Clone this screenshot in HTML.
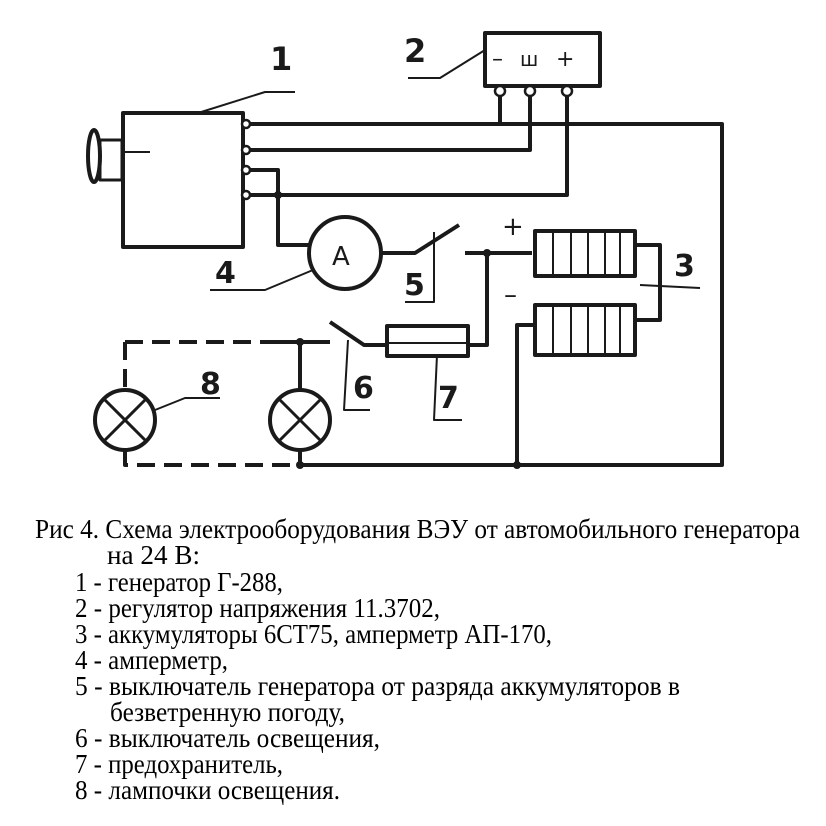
<!DOCTYPE html>
<html><head><meta charset="utf-8"><style>
html,body{margin:0;padding:0;background:#fff;width:826px;height:826px;overflow:hidden}
svg{display:block}
</style></head><body>
<svg width="826" height="826" viewBox="0 0 826 826" xmlns="http://www.w3.org/2000/svg">
<g fill="none" stroke="#1a1a1a" stroke-width="4" stroke-linejoin="round">
<rect x="123" y="113" width="120" height="134"/>
<rect x="100" y="140" width="22" height="40" stroke-width="3"/>
<ellipse cx="94" cy="156" rx="6" ry="26" stroke-width="4"/>
<line x1="122" y1="152" x2="150" y2="152" stroke-width="2"/>
<rect x="485" y="33" width="115" height="53"/>
<path d="M198 113 L265 92 L295 92" stroke-width="2"/>
<path d="M485 50 L440 78 L408 78" stroke-width="2"/>
<path d="M313 270 L265 290 L210 290" stroke-width="2"/>
<path d="M434 232 L434 302 L405 302" stroke-width="2"/>
<path d="M348 340 L344 410 L370 410" stroke-width="2"/>
<path d="M437 355 L434 420 L462 420" stroke-width="2"/>
<path d="M155 410 L185 398 L220 398" stroke-width="2"/>
<path d="M640 285 L700 288" stroke-width="2"/>
<path d="M243 124 L722 124 L722 465 L300 465"/>
<path d="M500 95 L500 124"/>
<path d="M243 150 L530 150 L530 95"/>
<path d="M243 195 L567 195 L567 95"/>
<path d="M243 170 L278 170 L278 245 L310 245"/>
<path d="M381 253 L415 253 L459 225"/>
<path d="M465 253 L532 253"/>
<path d="M487 253 L487 345 L468 345"/>
<path d="M635 245 L660 245 L660 320 L635 320"/>
<path d="M535 325 L517 325 L517 465"/>
<path d="M330 322 L364 345 L387 345"/>
<path d="M270 342 L330 342"/>
<path d="M300 342 L300 390 M300 450 L300 465"/>
<path d="M125 342 L300 342 M125 342 L125 390 M125 450 L125 465 L300 465" stroke-dasharray="18 9"/>
<circle cx="345" cy="253" r="36"/>
<circle cx="125" cy="420" r="30"/>
<path d="M104 399 L146 441 M146 399 L104 441" stroke-width="3"/>
<circle cx="300" cy="420" r="30"/>
<path d="M279 399 L321 441 M321 399 L279 441" stroke-width="3"/>
<rect x="387" y="326" width="81" height="30"/>
<line x1="387" y1="343" x2="468" y2="343" stroke-width="2"/>
<rect x="535" y="231" width="100" height="45"/>
<rect x="535" y="305" width="100" height="50"/>
<path d="M553 231 V276 M571 231 V276 M588 231 V276 M605 231 V276 M620 231 V276" stroke-width="2"/>
<path d="M553 305 V355 M571 305 V355 M588 305 V355 M605 305 V355 M620 305 V355" stroke-width="2"/>
</g>
<g fill="#fff" stroke="#1a1a1a" stroke-width="2.5">
<circle cx="500" cy="91" r="5"/><circle cx="530" cy="91" r="5"/><circle cx="567" cy="91" r="5"/>
<circle cx="246" cy="124" r="4"/><circle cx="246" cy="150" r="4"/><circle cx="246" cy="170" r="4"/><circle cx="246" cy="195" r="4"/>
</g>
<g fill="#1a1a1a">
<circle cx="278" cy="195" r="4"/><circle cx="487" cy="253" r="4"/><circle cx="300" cy="342" r="4"/>
<circle cx="300" cy="465" r="4"/><circle cx="517" cy="465" r="4"/>
</g>
<g font-family="'DejaVu Sans','Liberation Sans',sans-serif" font-weight="bold" fill="#1a1a1a">
<text x="270" y="70" font-size="32">1</text>
<text x="404" y="62" font-size="32">2</text>
<text x="674" y="276" font-size="30">3</text>
<text x="215" y="283" font-size="30">4</text>
<text x="404" y="295" font-size="30">5</text>
<text x="353" y="398" font-size="30">6</text>
<text x="438" y="408" font-size="30">7</text>
<text x="200" y="394" font-size="30">8</text>
<text x="332" y="265" font-size="26" font-weight="normal">A</text>
<text x="492" y="66" font-size="22" font-weight="normal">–</text>
<text x="520" y="66" font-size="20" font-weight="normal">ш</text>
<text x="556" y="66" font-size="22" font-weight="normal">+</text>
<text x="502" y="235" font-size="26" font-weight="normal">+</text>
<text x="504" y="303" font-size="26" font-weight="normal">–</text>
</g>
<g font-family="'Liberation Serif','DejaVu Serif',serif" font-size="27" fill="#000">
<text x="35" y="538" textLength="765" lengthAdjust="spacingAndGlyphs">Рис 4. Схема электрооборудования ВЭУ от автомобильного генератора</text>
<text x="107" y="564" textLength="93" lengthAdjust="spacingAndGlyphs">на 24 В:</text>
<text x="75" y="591" textLength="208" lengthAdjust="spacingAndGlyphs">1 - генератор Г-288,</text>
<text x="75" y="617" textLength="365" lengthAdjust="spacingAndGlyphs">2 - регулятор напряжения 11.3702,</text>
<text x="75" y="643" textLength="477" lengthAdjust="spacingAndGlyphs">3 - аккумуляторы 6СТ75, амперметр АП-170,</text>
<text x="75" y="669" textLength="153" lengthAdjust="spacingAndGlyphs">4 - амперметр,</text>
<text x="75" y="695" textLength="605" lengthAdjust="spacingAndGlyphs">5 - выключатель генератора от разряда аккумуляторов в</text>
<text x="110" y="721" textLength="235" lengthAdjust="spacingAndGlyphs">безветренную погоду,</text>
<text x="75" y="747" textLength="305" lengthAdjust="spacingAndGlyphs">6 - выключатель освещения,</text>
<text x="75" y="773" textLength="208" lengthAdjust="spacingAndGlyphs">7 - предохранитель,</text>
<text x="75" y="799" textLength="265" lengthAdjust="spacingAndGlyphs">8 - лампочки освещения.</text>
</g>
</svg>
</body></html>
